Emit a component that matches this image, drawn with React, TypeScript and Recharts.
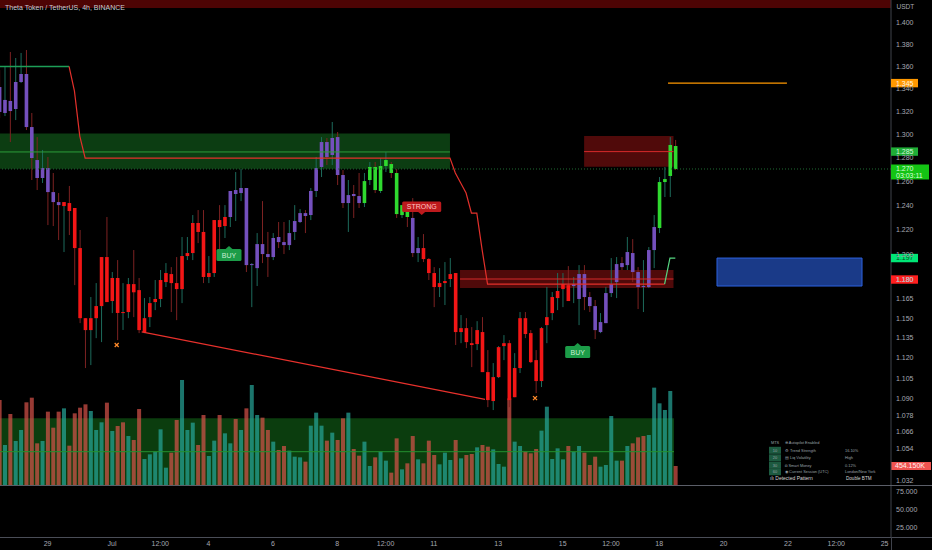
import {
  Bar,
  ComposedChart,
  Line,
  ReferenceArea,
  ReferenceDot,
  ReferenceLine,
  XAxis,
  YAxis,
} from "recharts";

const FONT = "'Liberation Sans', Arial, sans-serif";
const W = 932;
const AXIS_W = 41;
const PRICE_H = 485;
const LOWER_H = 65;

const TITLE = "Theta Token / TetherUS, 4h, BINANCE";

// candle index 0 = Jun 27 12:00, one step = 4h
const X_DOMAIN: [number, number] = [0.13, 166.2];
const PRICE_DOMAIN: [number, number] = [1.029, 1.4216];
const VOL_DOMAIN: [number, number] = [0, 11592];
const OSC_DOMAIN: [number, number] = [12.5, 84.7];

const DATE_TICKS = [9, 21, 30, 39, 51, 63, 72, 81, 93, 105, 114, 123, 135, 147, 156, 165];
const DATE_LABELS = ["29", "Jul", "12:00", "4", "6", "8", "12:00", "11", "13", "15", "12:00", "18", "20", "22", "12:00", "25"];

const PRICE_TICKS = [
  1.032, 1.054, 1.066, 1.078, 1.09, 1.105, 1.12, 1.135, 1.15, 1.165, 1.18, 1.2, 1.22, 1.24, 1.26, 1.28, 1.3,
  1.32, 1.34, 1.36, 1.38, 1.4,
];
const OSC_TICKS = [25, 50, 75];

const OPEN = [
  1.3415, 1.3185, 1.3291, 1.322, 1.346, 1.3532, 1.3062, 1.2778, 1.2626, 1.271,
  1.2508, 1.2425, 1.2392, 1.2417, 1.2376, 1.205, 1.15, 1.1409, 1.15, 1.1593,
  1.1978, 1.1632, 1.1812, 1.1539, 1.1547, 1.1764, 1.1717, 1.1394, 1.1508, 1.1624,
  1.1648, 1.178, 1.1843, 1.1772, 1.1725, 1.1986, 1.201, 1.2253, 1.218, 1.182,
  1.1851, 1.2277, 1.2228, 1.2302, 1.2492, 1.25, 1.2542, 1.1914, 1.189, 1.2082,
  1.2002, 1.1978, 1.2139, 1.2098, 1.2074, 1.218, 1.2261, 1.2334, 1.2318, 1.2517,
  1.2719, 1.2932, 1.2821, 1.2975, 1.2651, 1.2417, 1.2492, 1.2475, 1.2417, 1.2609,
  1.2719, 1.2517, 1.2727, 1.2744, 1.2668, 1.2318, 1.2392, 1.2294, 1.201, 1.205,
  1.1962, 1.1851, 1.1741, 1.1772, 1.1804, 1.1851, 1.1394, 1.1424, 1.131, 1.1303,
  1.1394, 1.1094, 1.0882, 1.1057, 1.1288, 1.131, 1.091, 1.1124, 1.15, 1.1386,
  1.1183, 1.1028, 1.1447, 1.1539, 1.1655, 1.1725, 1.1756, 1.1749, 1.1648, 1.1843,
  1.1663, 1.1593, 1.1394, 1.1462, 1.1694, 1.178, 1.193, 1.1914, 1.201, 1.1859,
  1.1741, 1.1741, 1.2034, 1.2212, 1.2592, 1.2643, 1.2898,
];

const HIGH = [
  1.3568, 1.3595, 1.3732, 1.3677, 1.3723, 1.375, 1.3185, 1.2975, 1.2864, 1.2804,
  1.2668, 1.25, 1.2425, 1.2559, 1.2376, 1.2196, 1.15, 1.1663, 1.1772, 1.1978,
  1.2302, 1.1859, 1.1954, 1.1772, 1.1812, 1.2034, 1.1812, 1.1655, 1.1663, 1.1796,
  1.1875, 1.193, 1.1898, 1.1978, 1.2139, 1.2139, 1.2318, 1.2359, 1.2359, 1.1986,
  1.2277, 1.24, 1.24, 1.2517, 1.2676, 1.2702, 1.2542, 1.193, 1.2171, 1.2433,
  1.218, 1.2171, 1.2261, 1.2261, 1.2277, 1.24, 1.2367, 1.2359, 1.2542, 1.2804,
  1.2975, 1.2967, 1.3106, 1.3019, 1.2693, 1.2609, 1.2567, 1.2668, 1.2668, 1.2761,
  1.2761, 1.2795, 1.2846, 1.2761, 1.2702, 1.24, 1.2392, 1.2458, 1.2139, 1.2163,
  1.197, 1.1898, 1.189, 1.1938, 1.197, 1.1851, 1.1524, 1.15, 1.1432, 1.1477,
  1.1508, 1.1258, 1.1161, 1.1288, 1.1371, 1.1333, 1.1235, 1.1547, 1.1547, 1.1409,
  1.1258, 1.1432, 1.1741, 1.1702, 1.1851, 1.1851, 1.1906, 1.182, 1.1914, 1.1914,
  1.1702, 1.164, 1.1539, 1.1741, 1.197, 1.1978, 1.1978, 1.2139, 1.2122, 1.1898,
  1.1954, 1.2058, 1.2318, 1.2634, 1.2719, 1.2975, 1.295,
];

const LOW = [
  1.3141, 1.3158, 1.2932, 1.3123, 1.3451, 1.3036, 1.2609, 1.2525, 1.2584, 1.2236,
  1.2228, 1.2115, 1.2018, 1.2155, 1.1756, 1.1462, 1.1124, 1.1146, 1.1348, 1.1318,
  1.1624, 1.1539, 1.1333, 1.141, 1.15, 1.1508, 1.1386, 1.1386, 1.1432, 1.1562,
  1.1585, 1.1741, 1.1547, 1.1485, 1.1616, 1.1954, 1.1954, 1.209, 1.1772, 1.1772,
  1.182, 1.2042, 1.2131, 1.222, 1.2269, 1.2433, 1.1859, 1.1585, 1.1749, 1.193,
  1.182, 1.1954, 1.205, 1.2002, 1.2034, 1.2115, 1.2253, 1.2171, 1.2277, 1.2467,
  1.2634, 1.2736, 1.2736, 1.2567, 1.2376, 1.218, 1.2294, 1.2376, 1.2384, 1.2567,
  1.25, 1.25, 1.2676, 1.2626, 1.2294, 1.2294, 1.222, 1.1978, 1.1938, 1.1938,
  1.1796, 1.1585, 1.1663, 1.1601, 1.1741, 1.1296, 1.131, 1.1273, 1.1131, 1.1258,
  1.1094, 1.0838, 1.0817, 1.105, 1.1183, 1.0838, 1.091, 1.1087, 1.1348, 1.1161,
  1.094, 1.0984, 1.131, 1.1485, 1.1562, 1.1585, 1.1632, 1.1616, 1.1447, 1.1562,
  1.1547, 1.1341, 1.1386, 1.1462, 1.1663, 1.1655, 1.1875, 1.1875, 1.178, 1.157,
  1.1547, 1.1733, 1.189, 1.2171, 1.2467, 1.2467, 1.2693,
];

const CLOSE = [
  1.3194, 1.33, 1.3202, 1.346, 1.3532, 1.3062, 1.2795, 1.2626, 1.271, 1.2508,
  1.2425, 1.24, 1.2425, 1.2351, 1.205, 1.15, 1.1409, 1.15, 1.1593, 1.1978,
  1.1624, 1.1812, 1.154, 1.1547, 1.1764, 1.17, 1.1409, 1.15, 1.1616, 1.1648,
  1.1796, 1.1851, 1.1772, 1.1725, 1.1986, 1.201, 1.2253, 1.218, 1.182, 1.1851,
  1.2277, 1.222, 1.2302, 1.2517, 1.2525, 1.2542, 1.1914, 1.1922, 1.2082, 1.2002,
  1.1978, 1.2131, 1.2098, 1.2074, 1.2171, 1.2269, 1.2334, 1.231, 1.2517, 1.271,
  1.2932, 1.2804, 1.2967, 1.2651, 1.2417, 1.2483, 1.2475, 1.2417, 1.26, 1.2719,
  1.2525, 1.2727, 1.2778, 1.2668, 1.2326, 1.24, 1.2302, 1.201, 1.205, 1.1962,
  1.1851, 1.1741, 1.1772, 1.1788, 1.1843, 1.1394, 1.1424, 1.1318, 1.1296, 1.1409,
  1.1094, 1.0889, 1.1057, 1.128, 1.131, 1.0889, 1.1124, 1.15, 1.1379, 1.1168,
  1.1028, 1.1424, 1.1508, 1.1663, 1.171, 1.1764, 1.1632, 1.1764, 1.1843, 1.1663,
  1.1593, 1.1409, 1.147, 1.1694, 1.1764, 1.1922, 1.1898, 1.2018, 1.1859, 1.1741,
  1.1749, 1.2034, 1.222, 1.2592, 1.2617, 1.2907, 1.2702,
];

// candle colouring of the indicator: p = neutral, r = bearish, g = bullish
const TREND = (
  "pppppppppp" + "pprrrrrrrr" + "rrrrrrrrrr" + "rrrrrrrrrr" + "rrrppppppp" + "pppppppppp" +
  "ppppppppgg" + "gggggggppr" + "rrrrrrrrrr" + "rrrrrrrrrr" + "rrrrrrrppp" + "pppppppppp" + "pppgggg"
).split("");

// volume in thousands
const VOLUME = [
  2032, 956, 1697, 1052, 1315, 1976, 2087, 996, 1052, 1753,
  1370, 1753, 1832, 940, 1713, 1848, 1928, 1769, 1315, 1498,
  1968, 1291, 1410, 1498, 1171, 1076, 1816, 621, 733, 797,
  1331, 414, 773, 1554, 2510, 1315, 1490, 956, 1673, 693,
  1060, 1673, 1235, 996, 1577, 1315, 1832, 2390, 1673, 1610,
  1315, 1036, 837, 932, 821, 677, 661, 558, 1418, 1729,
  1418, 1060, 1251, 1076, 1594, 1729, 860, 701, 1036, 454,
  661, 797, 582, 295, 1115, 374, 518, 1171, 613, 518,
  1060, 717, 494, 773, 598, 1076, 637, 717, 741, 900,
  956, 916, 852, 502, 438, 2071, 1036, 932, 797, 757,
  860, 1299, 1872, 621, 876, 613, 932, 797, 932, 773,
  478, 677, 438, 478, 1649, 582, 582, 932, 996, 1139,
  1171, 1195, 2327, 1952, 1793, 2247, 454.15,
];
const VOL_SIDE = (
  "rtrttrrrtr" + "rrtrrrrttt" + "rtrrtrrttt" + "ttrrtttrrt" + "trttrtrttr" + "rtrrtttrtt" +
  "trtrrtrrtt" + "rttrrtrrtr" + "rrtttrtrrt" + "rrtttrttrr" + "rtttttrttr" + "rrttttrtrr" + "rtttttr"
).split("");

// trailing stop line vertices [candle index, price]
const STOP_BULL_A: [number, number][] = [[0, 1.36], [13, 1.36]];
const STOP_BEAR: [number, number][] = [
  [13, 1.36], [14, 1.338], [15, 1.2984], [16, 1.2795], [84, 1.2795], [85, 1.2668], [86, 1.2584],
  [87, 1.25], [88, 1.2334], [89, 1.2334], [90, 1.2034], [91, 1.1764], [124, 1.1764],
];
const STOP_BULL_B: [number, number][] = [[124, 1.1764], [125, 1.197], [126, 1.197]];

const TOP_BAND: [number, number] = [1.414, 1.4216];
const ZONES = [
  { kind: "green", x1: 0.13, x2: 84, lo: 1.2705, hi: 1.3005, mid: 1.2847 },
  { kind: "red", x1: 109, x2: 125.66, lo: 1.2721, hi: 1.2984, mid: 1.285 },
  { kind: "red", x1: 85.87, x2: 125.66, lo: 1.1733, hi: 1.1875, mid: 1.1804 },
];
const TARGET_BOX = { x1: 133.77, x2: 160.8, lo: 1.1749, hi: 1.197 };
const TARGET_LEVEL = { x1: 124.64, x2: 146.8, p: 1.345 };
const TREND_LINE: [number, number][] = [[26.54, 1.1396], [90.53, 1.0894]];
const LAST_PRICE = 1.2702;

const SIGNALS = [
  { i: 42.81, p: 1.2066, text: "BUY", dir: "up" },
  { i: 78.73, p: 1.2318, text: "STRONG", dir: "down" },
  { i: 107.8, p: 1.1311, text: "BUY", dir: "up" },
];
const CROSSES = [
  { i: 21.88, p: 1.1296 },
  { i: 99.85, p: 1.0903 },
];

const PRICE_TAGS = [
  { p: 1.345, text: "1.345", kind: "orange" },
  { p: 1.285, text: "1.285", kind: "green" },
  { p: 1.2702, text: "1.270", sub: "03:03:11", kind: "last" },
  { p: 1.197, text: "1.197", kind: "mint" },
  { p: 1.18, text: "1.180", kind: "red" },
];
const VOL_TAG = { v: 454.15, text: "454.150K" };
const VOL_ZONE = { x1: 0.13, x2: 125.76, hi: 1594, mid: 796 };

const TABLE_ROWS = [
  { k: "MTS", label: "⊕ Autopilot Enabled", value: "" },
  { k: "10", label: "⚙ Trend Strength", value: "16.10%" },
  { k: "20", label: "▤ Liq Volatility", value: "High" },
  { k: "30", label: "◘ Smart Money", value: "0.12%" },
  { k: "60", label: "◉ Current Session (UTC)", value: "London/New York" },
];
const PATTERN_ROW = { label: "ılı Detected Pattern", value: "Double BTM" };

const BODY: Record<string, string> = { p: "#7450bd", r: "#f21616", g: "#2fd92f" };
const WICK_UP = "#1d6b5c";
const WICK_DOWN = "#7d2222";
const VOL_FILL: Record<string, string> = { t: "#26a69a", r: "#d9534a" };
const ZONE_FILL: Record<string, string> = { green: "#187a24", red: "#a01414" };
const ZONE_LINE: Record<string, string> = { green: "#2c9e3a", red: "#d62b2b" };
const TAG_STYLE: Record<string, { bg: string; fg: string }> = {
  orange: { bg: "#ff9800", fg: "#fff4e0" },
  green: { bg: "#1fae36", fg: "#d6f7da" },
  last: { bg: "#14c414", fg: "#dcffdc" },
  mint: { bg: "#00e676", fg: "#0a4a22" },
  red: { bg: "#ff1f1f", fg: "#ffdada" },
};
const TICK_STYLE = { fill: "#a6a9b2", fontSize: 7, fontFamily: FONT };

type Row = {
  i: number; o: number; h: number; l: number; c: number; t: string; v: number; vs: string;
  bullA?: number; bear?: number; bullB?: number;
};

const rows: Row[] = OPEN.map((o, k) => ({
  i: k, o, h: HIGH[k], l: LOW[k], c: CLOSE[k], t: TREND[k], v: VOLUME[k], vs: VOL_SIDE[k],
}));
STOP_BULL_A.forEach(([i, v]) => { rows[i].bullA = v; });
STOP_BEAR.forEach(([i, v]) => { rows[i].bear = v; });
STOP_BULL_B.forEach(([i, v]) => { rows[i].bullB = v; });

function Candle(props: any) {
  const { x, y, width, height, payload } = props;
  if (x == null || y == null || !payload) return null;
  const cx = x + width / 2;
  const top = Math.log(payload.h);
  const span = top - Math.log(payload.l);
  // bar spans low..high on the log axis, so open/close sit proportionally in log space
  const at = (v: number) => (span > 0 ? y + (height * (top - Math.log(v))) / span : y);
  const yo = at(payload.o);
  const yc = at(payload.c);
  const up = payload.c >= payload.o;
  return (
    <g>
      <line x1={cx} x2={cx} y1={y} y2={y + height} stroke={up ? WICK_UP : WICK_DOWN} strokeWidth={1} />
      <rect x={cx - 1.8} y={Math.min(yo, yc)} width={3.6} height={Math.max(Math.abs(yo - yc), 1)} fill={BODY[payload.t]} />
    </g>
  );
}

function VolumeBar(props: any) {
  const { x, y, width, height, payload } = props;
  if (x == null || !payload) return null;
  return <rect x={x} y={y} width={width} height={height} fill={VOL_FILL[payload.vs]} fillOpacity={0.7} />;
}

function Signal({ cx, cy, text, dir }: any) {
  if (cx == null) return null;
  if (dir === "up") {
    return (
      <g>
        <path d={`M${cx - 4},${cy + 3.5} L${cx},${cy} L${cx + 4},${cy + 3.5} Z`} fill="#1c9c48" />
        <rect x={cx - 12.5} y={cy + 3} width={25} height={12} rx={1.5} fill="#1c9c48" />
        <text x={cx} y={cy + 11.8} textAnchor="middle" fontSize={7} fill="#c9eed4" fontFamily={FONT}>
          {text}
        </text>
      </g>
    );
  }
  return (
    <g>
      <path d={`M${cx - 4},${cy - 3.5} L${cx},${cy} L${cx + 4},${cy - 3.5} Z`} fill="#bd1a1d" />
      <rect x={cx - 19.5} y={cy - 13.5} width={39} height={10.5} rx={1.5} fill="#bd1a1d" />
      <text x={cx} y={cy - 5.6} textAnchor="middle" fontSize={7} fill="#ffc2c2" fontFamily={FONT}>
        {text}
      </text>
    </g>
  );
}

function Cross({ cx, cy }: any) {
  if (cx == null) return null;
  return (
    <g stroke="#ff8a2a" strokeWidth={1.3}>
      <line x1={cx - 2} y1={cy - 2} x2={cx + 2} y2={cy + 2} />
      <line x1={cx - 2} y1={cy + 2} x2={cx + 2} y2={cy - 2} />
    </g>
  );
}

function PriceTag({ cx, cy, tag }: any) {
  if (cx == null) return null;
  const st = TAG_STYLE[tag.kind];
  if (tag.sub) {
    return (
      <g fontFamily={FONT} fontSize={7}>
        <rect x={cx} y={cy - 4.5} width={38} height={15} fill={st.bg} />
        <text x={cx + 5} y={cy + 2.2} fill={st.fg}>{tag.text}</text>
        <text x={cx + 5} y={cy + 8.6} fill={st.fg}>{tag.sub}</text>
      </g>
    );
  }
  return (
    <g fontFamily={FONT} fontSize={7}>
      <rect x={cx} y={cy - 4.2} width={27} height={8.4} fill={st.bg} />
      <text x={cx + 5} y={cy + 2.4} fill={st.fg}>{tag.text}</text>
    </g>
  );
}

function VolumeTag({ cx, cy }: any) {
  if (cx == null) return null;
  return (
    <g fontFamily={FONT} fontSize={7}>
      <rect x={cx} y={cy - 4} width={40} height={8} fill="#ef5350" />
      <text x={cx + 4} y={cy + 2.4} fill="#fff0f0">{VOL_TAG.text}</text>
    </g>
  );
}

function VolumeChart() {
  return (
    <ComposedChart width={W} height={PRICE_H} data={rows} margin={{ top: 0, right: AXIS_W, bottom: 0, left: 0 }}>
      <XAxis dataKey="i" type="number" domain={X_DOMAIN} allowDataOverflow hide />
      <YAxis domain={VOL_DOMAIN} allowDataOverflow hide />
      <ReferenceArea x1={VOL_ZONE.x1} x2={VOL_ZONE.x2} y1={0} y2={VOL_ZONE.hi} fill="#167a1c" fillOpacity={0.5} stroke="none" />
      <Bar dataKey="v" barSize={4} shape={VolumeBar} isAnimationActive={false} />
      <ReferenceLine
        segment={[{ x: VOL_ZONE.x1, y: VOL_ZONE.mid }, { x: VOL_ZONE.x2, y: VOL_ZONE.mid }]}
        stroke="#23902f"
        strokeWidth={1}
      />
      <ReferenceDot x={X_DOMAIN[1]} y={VOL_TAG.v} r={0} ifOverflow="visible" shape={(p: any) => <VolumeTag cx={p.cx} cy={p.cy} />} />
    </ComposedChart>
  );
}

function PriceChart() {
  return (
    <ComposedChart width={W} height={PRICE_H} data={rows} margin={{ top: 0, right: 0, bottom: 0, left: 0 }}>
      <XAxis dataKey="i" type="number" domain={X_DOMAIN} allowDataOverflow hide />
      <YAxis
        orientation="right"
        scale="log"
        domain={PRICE_DOMAIN}
        allowDataOverflow
        ticks={PRICE_TICKS}
        interval={0}
        width={AXIS_W}
        tickSize={0}
        tickMargin={5}
        tickLine={false}
        axisLine={{ stroke: "#3f424b" }}
        tick={TICK_STYLE}
        tickFormatter={(v) => Number(v).toFixed(3)}
      />
      <ReferenceArea x1={X_DOMAIN[0]} x2={X_DOMAIN[1]} y1={TOP_BAND[0]} y2={TOP_BAND[1]} fill="#8c0707" fillOpacity={0.55} stroke="none" />
      {ZONES.map((z, k) => (
        <ReferenceArea key={`z${k}`} x1={z.x1} x2={z.x2} y1={z.lo} y2={z.hi} fill={ZONE_FILL[z.kind]} fillOpacity={0.5} stroke="none" />
      ))}
      <ReferenceArea
        x1={TARGET_BOX.x1}
        x2={TARGET_BOX.x2}
        y1={TARGET_BOX.lo}
        y2={TARGET_BOX.hi}
        fill="#1b3d8f"
        fillOpacity={0.95}
        stroke="#2d62e0"
        strokeWidth={1}
      />
      {ZONES.map((z, k) => (
        <ReferenceLine
          key={`m${k}`}
          segment={[{ x: z.x1, y: z.mid }, { x: z.x2, y: z.mid }]}
          stroke={ZONE_LINE[z.kind]}
          strokeWidth={1}
        />
      ))}
      <ReferenceLine y={LAST_PRICE} stroke="#1f6b33" strokeDasharray="1 2" />
      <ReferenceLine
        segment={[{ x: TARGET_LEVEL.x1, y: TARGET_LEVEL.p }, { x: TARGET_LEVEL.x2, y: TARGET_LEVEL.p }]}
        stroke="#ff9800"
        strokeWidth={1.2}
      />
      <ReferenceLine
        segment={[{ x: TREND_LINE[0][0], y: TREND_LINE[0][1] }, { x: TREND_LINE[1][0], y: TREND_LINE[1][1] }]}
        stroke="#e8312c"
        strokeWidth={1.2}
      />
      <Bar dataKey={(d: Row) => [d.l, d.h]} barSize={4} shape={Candle} isAnimationActive={false} />
      <Line dataKey="bullA" type="linear" stroke="#1d9e57" strokeWidth={1.4} dot={false} connectNulls isAnimationActive={false} />
      <Line dataKey="bear" type="linear" stroke="#e3302b" strokeWidth={1.2} dot={false} connectNulls isAnimationActive={false} />
      <Line dataKey="bullB" type="linear" stroke="#55d680" strokeWidth={1.2} dot={false} connectNulls isAnimationActive={false} />
      {SIGNALS.map((s, k) => (
        <ReferenceDot
          key={`s${k}`}
          x={s.i}
          y={s.p}
          r={0}
          ifOverflow="visible"
          shape={(p: any) => <Signal cx={p.cx} cy={p.cy} text={s.text} dir={s.dir} />}
        />
      ))}
      {CROSSES.map((c, k) => (
        <ReferenceDot key={`c${k}`} x={c.i} y={c.p} r={0} ifOverflow="visible" shape={(p: any) => <Cross cx={p.cx} cy={p.cy} />} />
      ))}
      {PRICE_TAGS.map((t, k) => (
        <ReferenceDot
          key={`t${k}`}
          x={X_DOMAIN[1]}
          y={t.p}
          r={0}
          ifOverflow="visible"
          shape={(p: any) => <PriceTag cx={p.cx} cy={p.cy} tag={t} />}
        />
      ))}
    </ComposedChart>
  );
}

function LowerChart() {
  return (
    <ComposedChart width={W} height={LOWER_H} data={rows} margin={{ top: 0, right: 0, bottom: 0, left: 0 }}>
      <XAxis
        dataKey="i"
        type="number"
        domain={X_DOMAIN}
        allowDataOverflow
        ticks={DATE_TICKS}
        interval={0}
        height={13}
        tickSize={0}
        tickMargin={4}
        axisLine={false}
        tickLine={false}
        tick={TICK_STYLE}
        tickFormatter={(v) => DATE_LABELS[DATE_TICKS.indexOf(Number(v))] ?? ""}
      />
      <YAxis
        orientation="right"
        domain={OSC_DOMAIN}
        allowDataOverflow
        ticks={OSC_TICKS}
        interval={0}
        width={AXIS_W}
        tickSize={0}
        tickMargin={5}
        tickLine={false}
        axisLine={{ stroke: "#3f424b" }}
        tick={TICK_STYLE}
        tickFormatter={(v) => Number(v).toFixed(3)}
      />
      <Line dataKey="osc" stroke="none" dot={false} isAnimationActive={false} />
    </ComposedChart>
  );
}

function Overlay() {
  const rowY = [442.6, 450.4, 457.9, 465.2, 471.9];
  return (
    <svg
      width={W}
      height={550}
      style={{ position: "absolute", left: 0, top: 0, pointerEvents: "none" }}
      fontFamily={FONT}
    >
      <text x={5} y={9.6} fontSize={7} fill="#c8cbd3">{TITLE}</text>
      <text x={896.5} y={8.6} fontSize={6.5} fill="#a6a9b2">USDT</text>
      <line x1={0} x2={W} y1={485.5} y2={485.5} stroke="#5b5e68" />
      <line x1={0} x2={W} y1={537.5} y2={537.5} stroke="#4a4d57" />
      <line x1={891.5} x2={891.5} y1={537} y2={550} stroke="#3f424b" />
      <g fontSize={3.9}>
        {TABLE_ROWS.map((r, k) => (
          <g key={r.k}>
            {k > 0 && <rect x={769} y={rowY[k] - 3.6} width={12} height={7} fill="#1d5a40" />}
            <text x={775} y={rowY[k] + 1.4} textAnchor="middle" fill="#9aa0a8">{r.k}</text>
            <text x={785} y={rowY[k] + 1.4} fill="#9aa0a8">{r.label}</text>
            <text x={845} y={rowY[k] + 1.4} fill="#9aa0a8">{r.value}</text>
          </g>
        ))}
        <text x={770} y={480} fontSize={5} fill="#d6d6d6">{PATTERN_ROW.label}</text>
        <text x={846} y={480} fontSize={4.6} fill="#d6d6d6">{PATTERN_ROW.value}</text>
      </g>
    </svg>
  );
}

export default function App() {
  return (
    <div
      style={{
        position: "absolute",
        left: 0,
        top: 0,
        width: W,
        height: 550,
        background: "#000",
        overflow: "hidden",
        fontFamily: FONT,
      }}
    >
      <div style={{ position: "absolute", left: 0, top: 0 }}>
        <VolumeChart />
      </div>
      <div style={{ position: "absolute", left: 0, top: 0 }}>
        <PriceChart />
      </div>
      <div style={{ position: "absolute", left: 0, top: PRICE_H }}>
        <LowerChart />
      </div>
      <Overlay />
    </div>
  );
}
